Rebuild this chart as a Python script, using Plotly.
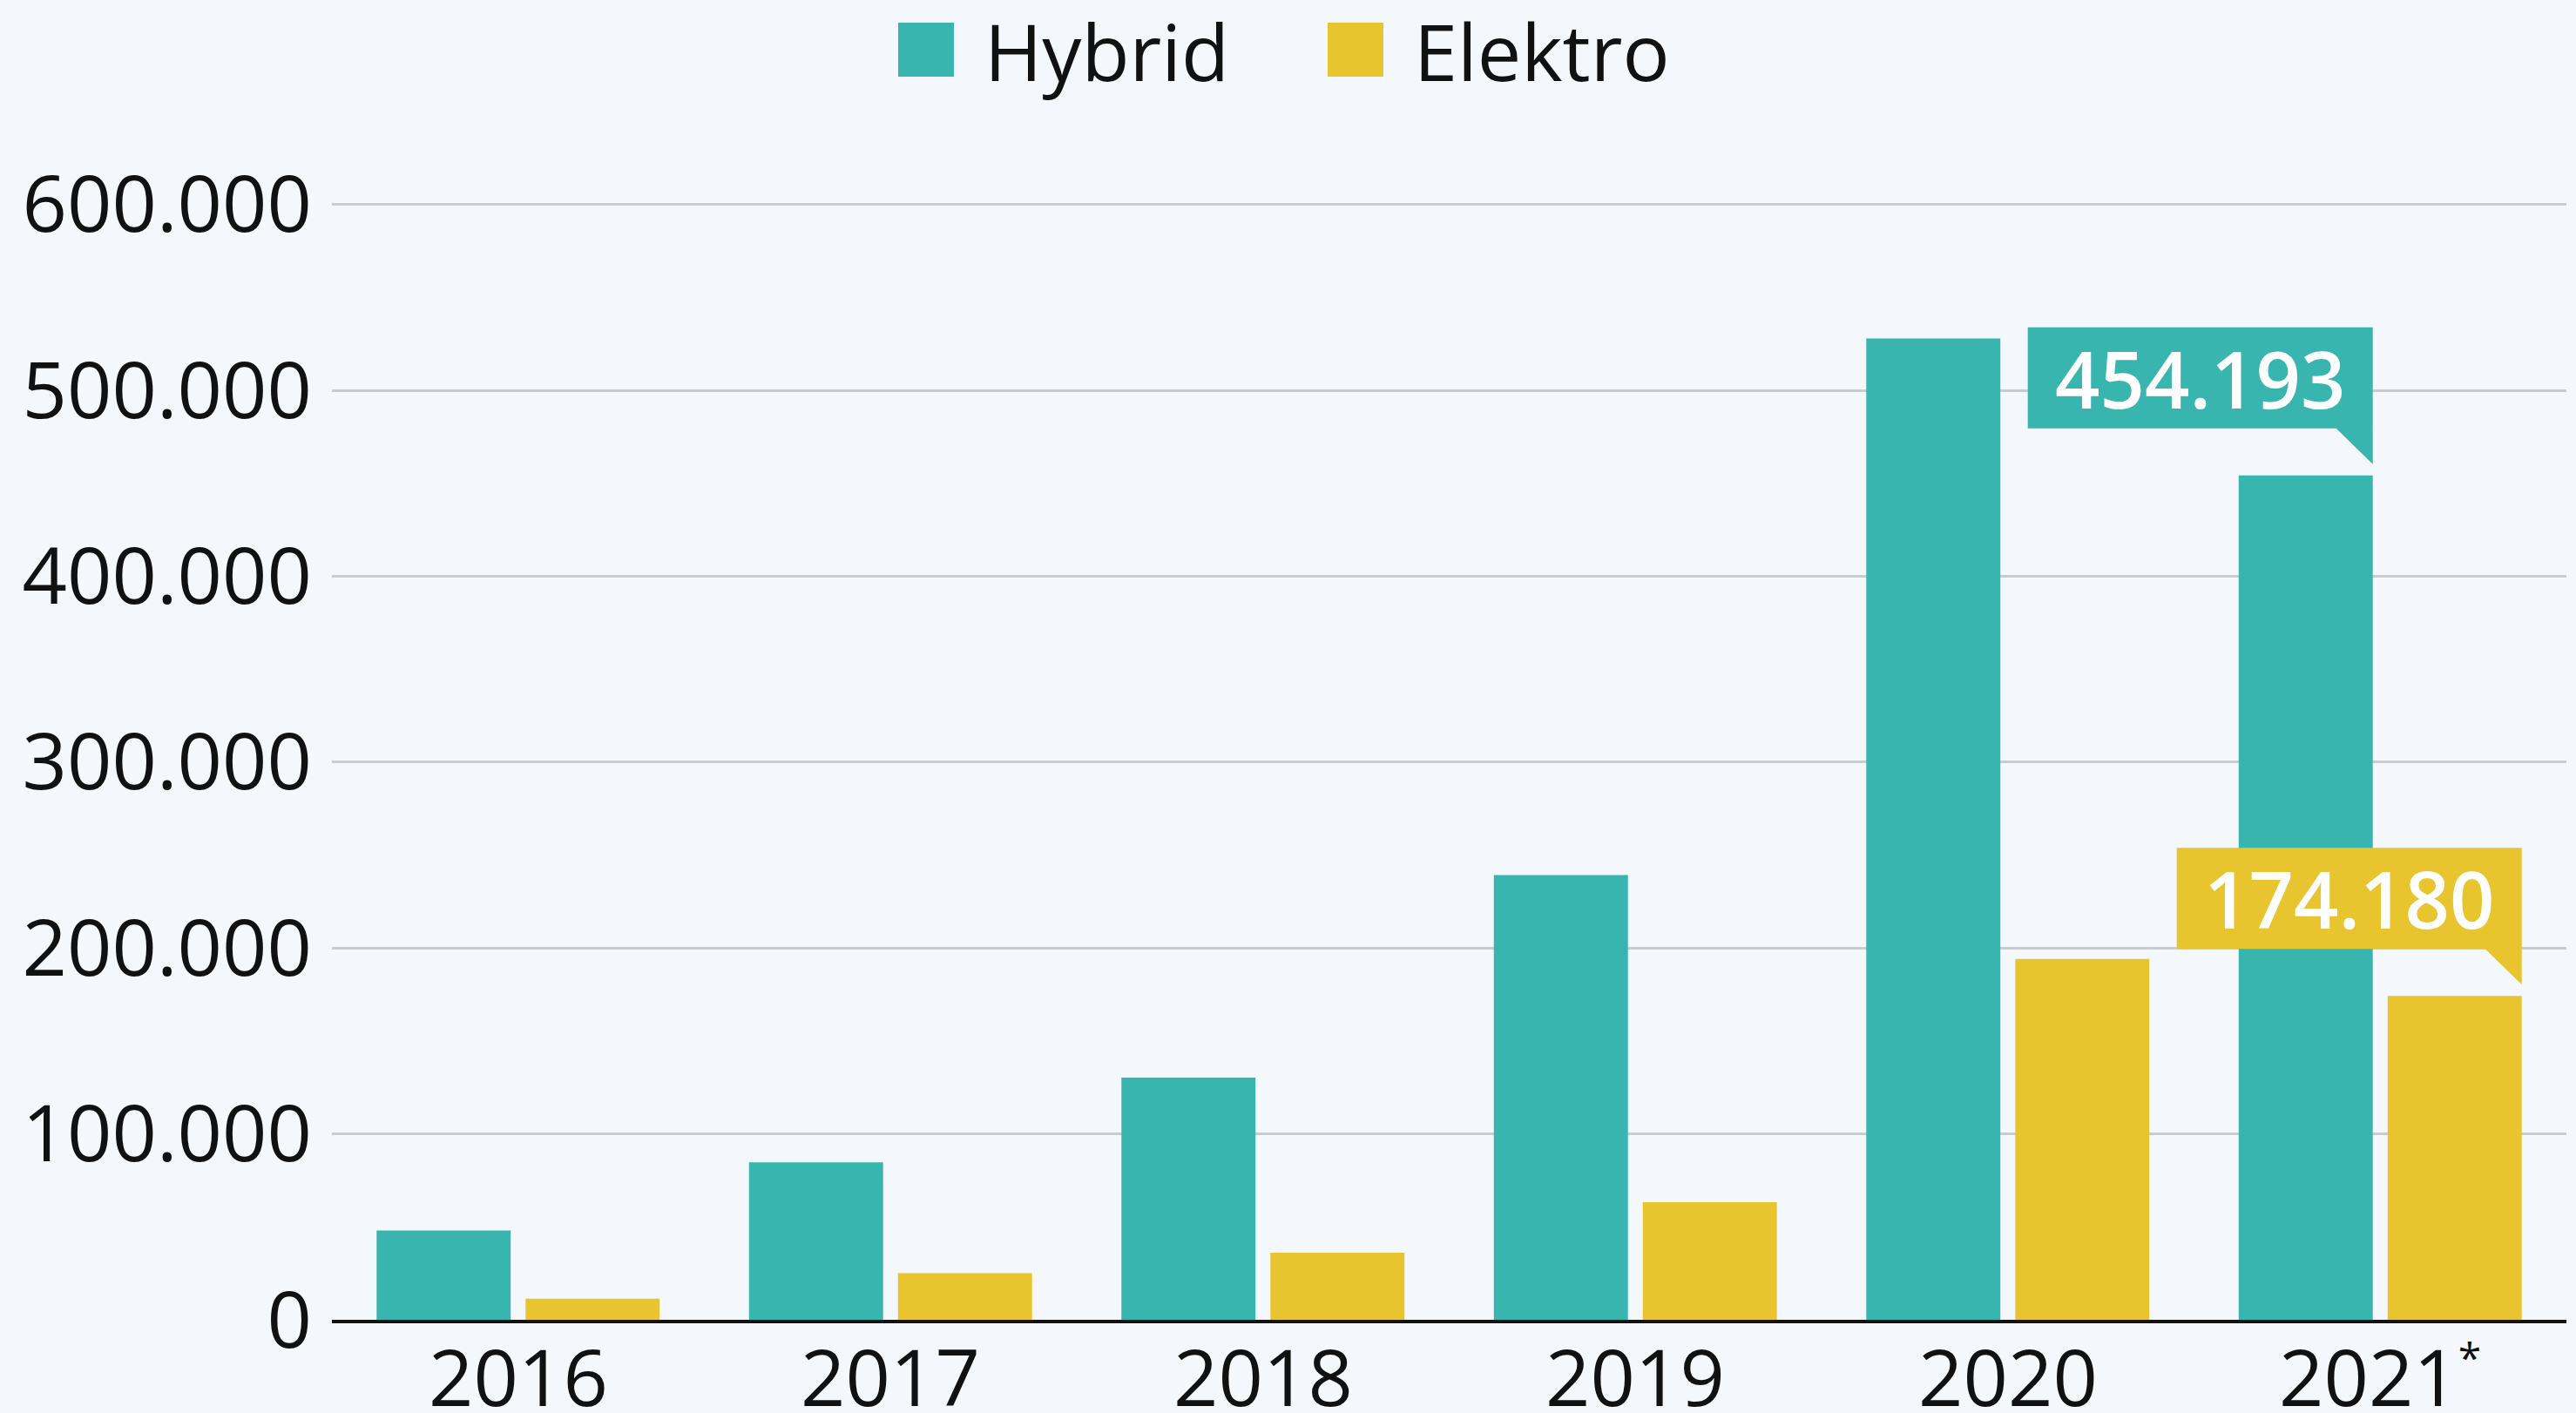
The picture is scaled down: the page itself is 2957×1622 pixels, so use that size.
import plotly.graph_objects as go

# ---- data ----
years = ["2016", "2017", "2018", "2019", "2020", "2021*"]
year_labels = ["2016", "2017", "2018", "2019", "2020",
               "2021<sup><span style='font-size:48px'>*</span></sup>"]
hybrid = [47996, 84675, 130258, 239250, 527864, 454193]
elektro = [11410, 25056, 36062, 63281, 194163, 174180]
y_ticks = [0, 100000, 200000, 300000, 400000, 500000, 600000]
y_tick_text = ["0", "100.000", "200.000", "300.000", "400.000", "500.000", "600.000"]
series_names = ["Hybrid", "Elektro"]

# ---- style ----
W, H = 2957, 1622
L, R, T, B = 381, 11, 192, 107
TEAL = "#39b5b0"
YELLOW = "#e8c42e"
BG = "#f4f7fb"
FONT = "Open Sans"
FS = 90
BARGAP = 0.2
BGG = 0.1
TXT = "#111111"

fig = go.Figure()
fig.add_trace(go.Bar(x=years, y=hybrid, name=series_names[0], marker_color=TEAL,
                     marker_line_width=0, showlegend=False))
fig.add_trace(go.Bar(x=years, y=elektro, name=series_names[1], marker_color=YELLOW,
                     marker_line_width=0, showlegend=False))

fig.update_layout(
    width=W, height=H,
    margin=dict(l=L, r=R, t=T, b=B, pad=0, autoexpand=False),
    paper_bgcolor=BG, plot_bgcolor=BG,
    barmode="group", bargap=BARGAP, bargroupgap=BGG,
    font=dict(family=FONT, size=FS, color=TXT),
    showlegend=False,
)
fig.update_yaxes(range=[0, 620000], tickvals=y_ticks, ticktext=y_tick_text,
                 showgrid=True, gridcolor="#c9cccf", gridwidth=2.5,
                 zeroline=False, ticks="", ticklabelstandoff=22, automargin=False,
                 tickfont=dict(family=FONT, size=FS, color=TXT))
fig.update_xaxes(type="category", categoryorder="array", categoryarray=years,
                 showline=True, linecolor=TXT, linewidth=4,
                 ticks="", showticklabels=False, automargin=False)

# x category labels as annotations just under the axis line
for i, lab in enumerate(year_labels):
    fig.add_annotation(xref="x", yref="y", x=i, y=0, text=lab, showarrow=False,
                       xanchor="center", yanchor="middle", yshift=-64,
                       font=dict(family=FONT, size=FS, color=TXT))

plot_w = W - L - R
plot_h = H - T - B


def px_x(px):
    return (px - L) / plot_w


def px_y(py):
    return (H - B - py) / plot_h


# ---- manual legend ----
legend_items = [(series_names[0], TEAL, 1031, 1128), (series_names[1], YELLOW, 1524, 1621)]
for name, col, sx, tx in legend_items:
    fig.add_shape(type="rect", xref="paper", yref="paper",
                  x0=px_x(sx), x1=px_x(sx + 64), y0=px_y(88), y1=px_y(26),
                  fillcolor=col, line_width=0)
    fig.add_annotation(xref="paper", yref="paper", x=px_x(tx), y=px_y(58),
                       text=name, showarrow=False, xanchor="left", yanchor="middle",
                       font=dict(family=FONT, size=FS, color=TXT))

# ---- callouts on last year ----
last = len(years) - 1
half = (1 - BARGAP) / 2
slot = half
right_offsets = [-half + slot - slot * BGG / 2, -half + 2 * slot - slot * BGG / 2]
callout_vals = [hybrid[last], elektro[last]]
callout_cols = [TEAL, YELLOW]
path = "M -396,170 L 0,170 L 0,13 L -42,54 L -396,54 Z"
for val, col, off in zip(callout_vals, callout_cols, right_offsets):
    xa = last + off
    fig.add_shape(type="path", xref="x", yref="y", xsizemode="pixel", ysizemode="pixel",
                  xanchor=xa, yanchor=val, path=path, fillcolor=col, line_width=0,
                  layer="above")
    label = f"{val:,}".replace(",", ".")
    fig.add_annotation(xref="x", yref="y", x=xa, y=val, text=label, showarrow=False,
                       xanchor="center", yanchor="middle", xshift=-198, yshift=112,
                       font=dict(family=FONT, size=FS, color="white", weight=600))

fig.write_html(
    "out.html",
    config={"displayModeBar": False},
    post_script="document.body.style.margin='0';document.body.style.background='%s';" % BG,
)
